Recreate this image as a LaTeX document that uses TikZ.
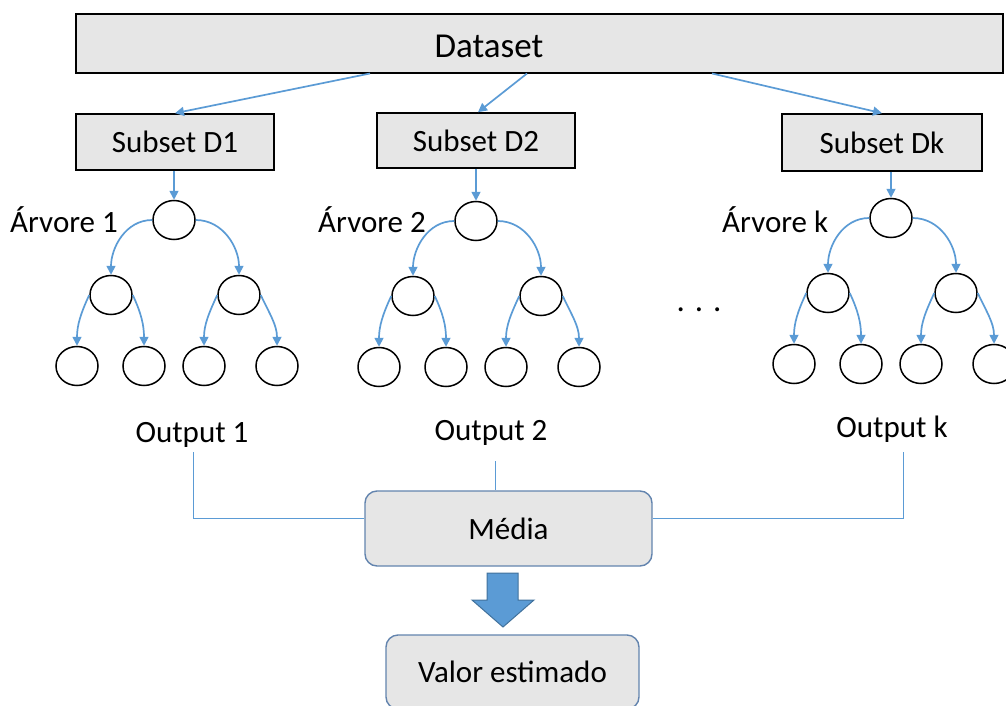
\documentclass[tikz,border=0pt]{standalone}
\usepackage{fontspec}
\setmainfont{Carlito}
\usetikzlibrary{arrows.meta,shapes.geometric,calc}
\definecolor{blu}{HTML}{5B9BD5}
\definecolor{boxgray}{HTML}{E6E6E6}
\definecolor{rbord}{HTML}{6384AE}
\definecolor{arrbord}{HTML}{41719C}
\begin{document}
\begin{tikzpicture}[x=1pt,y=1pt,
  txt/.style={font=\fontsize{31}{37}\selectfont},
  sbox/.style={draw=black, line width=1.6pt, fill=boxgray, inner sep=0pt, txt},
  tn/.style={ellipse, draw=black, line width=1.5pt, minimum width=42pt, minimum height=39pt, inner sep=0pt},
  conn/.style={draw=blu, line width=1.7pt, -{Triangle[length=9pt,width=9pt]}},
  thinl/.style={draw=blu, line width=1pt},
  rbox/.style={draw=rbord, line width=1.4pt, fill=boxgray, rounded corners=12pt, inner sep=0pt, txt},
  lbl/.style={txt, inner sep=0pt, anchor=base}]
\useasboundingbox (0,0) rectangle (1006,-706);

% Dataset
\node[sbox, minimum width=927pt, minimum height=59pt] (ds) at (539.5,-43.5) {};
\node[lbl, font=\fontsize{35}{40}\selectfont] (dst) at (489,-58) {Dataset};

% Subsets
\node[sbox, minimum width=198pt, minimum height=56pt] (s1) at (175,-142) {Subset D1};
\node[sbox, minimum width=198pt, minimum height=55pt] (s2) at (476,-140.5) {Subset D2};
\node[sbox, minimum width=200pt, minimum height=57pt] (sk) at (882,-142.5) {Subset Dk};

\coordinate (d1) at (370,-73.5);
\coordinate (d2) at (527,-73.5);
\coordinate (dk) at (712,-73.5);
\draw[conn] (d1) -- (s1.north);
\draw[conn] (d2) -- ([xshift=2pt]s2.north);
\draw[conn] (dk) -- (sk.north);

% Trees
\foreach \t/\rx/\ry in {1/174/220, 2/476/221, k/891/218} {
  \node[tn] (r\t) at (\rx,-\ry) {};
  \node[tn] (a\t) at (\rx-63,-\ry-75) {};
  \node[tn] (b\t) at (\rx+65,-\ry-75) {};
  \node[tn] (la\t) at (\rx-97,-\ry-146) {};
  \node[tn] (lb\t) at (\rx-30,-\ry-146) {};
  \node[tn] (lc\t) at (\rx+30,-\ry-146) {};
  \node[tn] (ld\t) at (\rx+103,-\ry-146) {};
  \draw[conn] (r\t |- s\t.south) -- (r\t.north);
  \draw[conn] (r\t.west) to[out=180,in=90] (a\t.north);
  \draw[conn] (r\t.east) to[out=0,in=90] (b\t.north);
  \draw[conn] (a\t.west) to[out=245,in=90] (la\t.north);
  \draw[conn] (a\t.east) to[out=-65,in=90] (lb\t.north);
  \draw[conn] (b\t.west) to[out=245,in=90] (lc\t.north);
  \draw[conn] (b\t.east) to[out=-65,in=90] (ld\t.north);
}

% Tree labels
\node[lbl, anchor=base west] (t1) at (10,-232) {Árvore 1};
\node[lbl, anchor=base west] (t2) at (318,-232) {Árvore 2};
\node[lbl, anchor=base west] (tk) at (722,-232) {Árvore k};
\node[lbl, font=\fontsize{33}{37}\selectfont] (dots) at (699,-311) {. . .};

% Outputs
\node[lbl] (o1) at (192,-442) {Output 1};
\node[lbl] (o2) at (491,-440) {Output 2};
\node[lbl] (ok) at (892,-437) {Output k};

% Media
\node[rbox, minimum width=287pt, minimum height=75pt] (m) at (508.5,-528.5) {Média};
\coordinate (o1l) at (193,-452);
\coordinate (o2l) at (495,-461);
\coordinate (okl) at (903,-452);
\draw[thinl] (o1l) |- ([yshift=10.5pt]m.west);
\draw[thinl] (o2l) -- (o2l |- m.north);
\draw[thinl] (okl) |- ([yshift=10.5pt]m.east);

% Block arrow
\draw[fill=blu, draw=arrbord, line width=1pt, line join=miter]
  (487,-573) -- (518,-573) -- (518,-600) -- (534,-600) -- (503,-627)
  -- (472,-600) -- (487,-600) -- cycle;

% Valor estimado
\node[rbox, minimum width=253pt, minimum height=74pt] (v) at (512.5,-672) {Valor estimado};
\end{tikzpicture}
\end{document}
